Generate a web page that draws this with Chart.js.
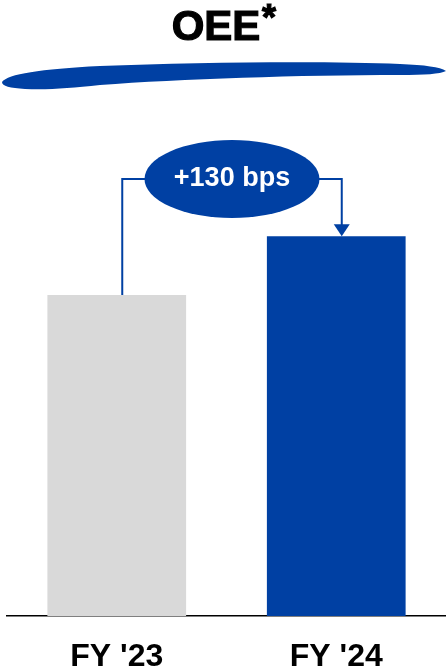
<!DOCTYPE html>
<html>
<head>
<meta charset="utf-8">
<script src="https://cdn.jsdelivr.net/npm/chart.js@4"></script>
<style>
  html, body { margin: 0; padding: 0; background: #fff; }
  #wrap { width: 446px; height: 668px; }
</style>
</head>
<body>
<div id="wrap"><canvas id="oeeChart" width="446" height="668"></canvas></div>
<script>
// OEE chart, FY '23 vs FY '24
const categories = ["FY '23", "FY '24"];
const oeeValues = [7.1, 8.4];        // relative bar heights, 1.3 pts apart
const barColors = ['#d9d9d9', '#0040a3'];
const deltaLabel = '+130 bps';
const titleText = 'OEE';

const BLUE = '#0040a3';
const FONT = '"Liberation Sans", Arial, sans-serif';

// title, brush stroke and the +130 bps bracket
const decorPlugin = {
    id: 'decor',
    afterDraw(chart) {
        const ctx = chart.ctx;
        ctx.save();

        // title (a thin stroke to get the heavier weight)
        ctx.fillStyle = '#000';
        ctx.strokeStyle = '#000';
        ctx.lineWidth = 1.2;
        ctx.font = 'bold 42px ' + FONT;
        ctx.textAlign = 'center';
        ctx.textBaseline = 'alphabetic';
        ctx.fillText(titleText, 216, 40);
        ctx.strokeText(titleText, 216, 40);
        ctx.font = 'bold 36px ' + FONT;
        ctx.textAlign = 'left';
        ctx.fillText('*', 262, 30);
        ctx.strokeText('*', 262, 30);

        // brush stroke under the title
        ctx.fillStyle = BLUE;
        ctx.beginPath();
        ctx.moveTo(2, 82);
        ctx.bezierCurveTo(8, 74, 40, 69, 100, 66);
        ctx.bezierCurveTo(200, 62, 330, 61, 400, 64);
        ctx.bezierCurveTo(425, 65, 440, 67, 446, 71);
        ctx.bezierCurveTo(440, 74, 425, 75, 400, 75);
        ctx.bezierCurveTo(300, 75, 180, 79, 100, 85);
        ctx.bezierCurveTo(70, 88, 50, 90, 25, 89);
        ctx.bezierCurveTo(10, 88, 2, 86, 2, 82);
        ctx.closePath();
        ctx.fill();

        // bracket from bar tops
        const bars = chart.getDatasetMeta(0).data;
        const b0 = bars[0], b1 = bars[1];
        const xl = b0.x + 5.5, xr = b1.x + 5.5;
        const cx = (xl + xr) / 2, cy = 179;
        const rx = 87.5, ry = 39;

        ctx.strokeStyle = BLUE;
        ctx.lineWidth = 2;
        ctx.beginPath();
        ctx.moveTo(xl, b0.y);
        ctx.lineTo(xl, cy);
        ctx.lineTo(xr, cy);
        ctx.lineTo(xr, b1.y - 10);
        ctx.stroke();

        ctx.beginPath();
        ctx.moveTo(xr, b1.y);
        ctx.lineTo(xr - 8, b1.y - 12);
        ctx.lineTo(xr + 8, b1.y - 12);
        ctx.closePath();
        ctx.fill();

        ctx.beginPath();
        ctx.ellipse(cx, cy, rx, ry, 0, 0, Math.PI * 2);
        ctx.fill();

        ctx.fillStyle = '#fff';
        ctx.font = 'bold 27px ' + FONT;
        ctx.textAlign = 'center';
        ctx.textBaseline = 'middle';
        ctx.fillText(deltaLabel, cx, cy);

        ctx.restore();
    }
};

new Chart(document.getElementById('oeeChart'), {
    type: 'bar',
    data: {
        labels: categories,
        datasets: [{
            data: oeeValues,
            backgroundColor: barColors,
            borderWidth: 0,
            categoryPercentage: 1,
            barPercentage: 0.632
        }]
    },
    options: {
        responsive: false,
        animation: false,
        layout: { padding: { top: 164, left: 7, right: 0, bottom: 0 } },
        plugins: {
            legend: { display: false },
            tooltip: { enabled: false }
        },
        scales: {
            y: {
                display: false,
                min: 0,
                max: 10
            },
            x: {
                grid: { display: false, drawTicks: false },
                border: { display: true, color: '#000', width: 1.5 },
                ticks: {
                    color: '#000',
                    padding: 22,
                    font: { family: FONT, size: 32, weight: 'bold', lineHeight: 1.2 }
                },
                afterFit(scale) { scale.height = 52; }
            }
        }
    },
    plugins: [decorPlugin]
});
</script>
</body>
</html>
